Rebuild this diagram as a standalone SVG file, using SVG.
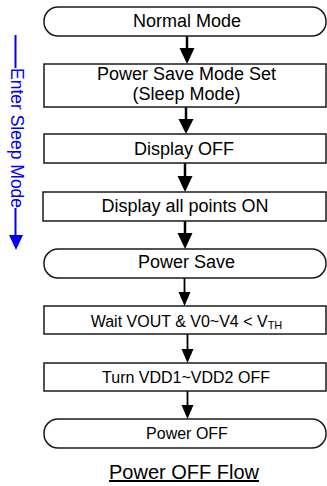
<svg xmlns="http://www.w3.org/2000/svg" width="327" height="486" viewBox="0 0 327 486">
<style>
.box{fill:#fff;stroke:#1a1a1a;stroke-width:1.5}
.t{font-family:"Liberation Sans",Arial,sans-serif;fill:#000;text-anchor:middle}
.big{font-size:18px}
.sm{font-size:16px}
.c{stroke:#000;fill:none}
.blue{stroke:#0000ff;stroke-width:2;fill:none}
</style>
<rect width="327" height="486" fill="#fff"/>
<g id="connectors">
<line class="c" x1="187" y1="36" x2="187" y2="50" stroke-width="2.5"/>
<polygon points="179.5,48 194.5,48 187,64"/>
<line class="c" x1="186" y1="107" x2="186" y2="120" stroke-width="2.5"/>
<polygon points="178.5,119 193.5,119 186,134"/>
<line class="c" x1="185" y1="163" x2="185" y2="178" stroke-width="2.5"/>
<polygon points="177.5,176 192.5,176 185,192"/>
<line class="c" x1="185" y1="221" x2="185" y2="235" stroke-width="2.5"/>
<polygon points="177.5,233 192.5,233 185,249"/>
<line class="c" x1="184.5" y1="278" x2="184.5" y2="294" stroke-width="1.8"/>
<polygon points="178.5,292 190.5,292 184.5,306"/>
<line class="c" x1="187.5" y1="334" x2="187.5" y2="351" stroke-width="1.8"/>
<polygon points="181.5,349 193.5,349 187.5,363"/>
<line class="c" x1="187.5" y1="391" x2="187.5" y2="407" stroke-width="1.8"/>
<polygon points="181.5,405 193.5,405 187.5,419"/>
</g>
<g id="n1"><rect class="box" x="44" y="7" width="282" height="29" rx="14" ry="14"/><text class="t big" x="187" y="27">Normal Mode</text></g>
<g id="n2"><rect class="box" x="44" y="64" width="282" height="43"/><text class="t big" x="186.5" y="80">Power Save Mode Set</text><text class="t big" x="186.5" y="100">(Sleep Mode)</text></g>
<g id="n3"><rect class="box" x="44" y="134" width="282" height="29"/><text class="t big" x="184" y="155">Display OFF</text></g>
<g id="n4"><rect class="box" x="43" y="192" width="283" height="29"/><text class="t big" x="185" y="212">Display all points ON</text></g>
<g id="n5"><rect class="box" x="44" y="249" width="282" height="29" rx="14" ry="14"/><text class="t big" x="186.5" y="268">Power Save</text></g>
<g id="n6"><rect class="box" x="44" y="306" width="282" height="28"/><text class="t sm" x="186.5" y="327">Wait VOUT &amp; V0~V4 &lt; V<tspan font-size="11" dy="2">TH</tspan></text></g>
<g id="n7"><rect class="box" x="44" y="363" width="282" height="28"/><text class="t sm" x="186" y="383">Turn VDD1~VDD2 OFF</text></g>
<g id="n8"><rect class="box" x="44" y="419" width="282" height="29" rx="14" ry="14"/><text class="t sm" x="187" y="439">Power OFF</text></g>
<g id="side">
<line class="blue" x1="15.5" y1="35" x2="15.5" y2="68"/>
<line class="blue" x1="15.5" y1="208" x2="15.5" y2="237"/>
<polygon points="9,235 23,235 16,250" fill="#0000ff"/>
<text x="0" y="0" transform="translate(11,68) rotate(90)" font-family="'Liberation Sans',Arial,sans-serif" font-size="17.5" fill="#0000ff">Enter Sleep Mode</text>
</g>
<g id="title"><text class="t" x="184" y="479" font-size="20" text-decoration="underline">Power OFF Flow</text></g>
</svg>
